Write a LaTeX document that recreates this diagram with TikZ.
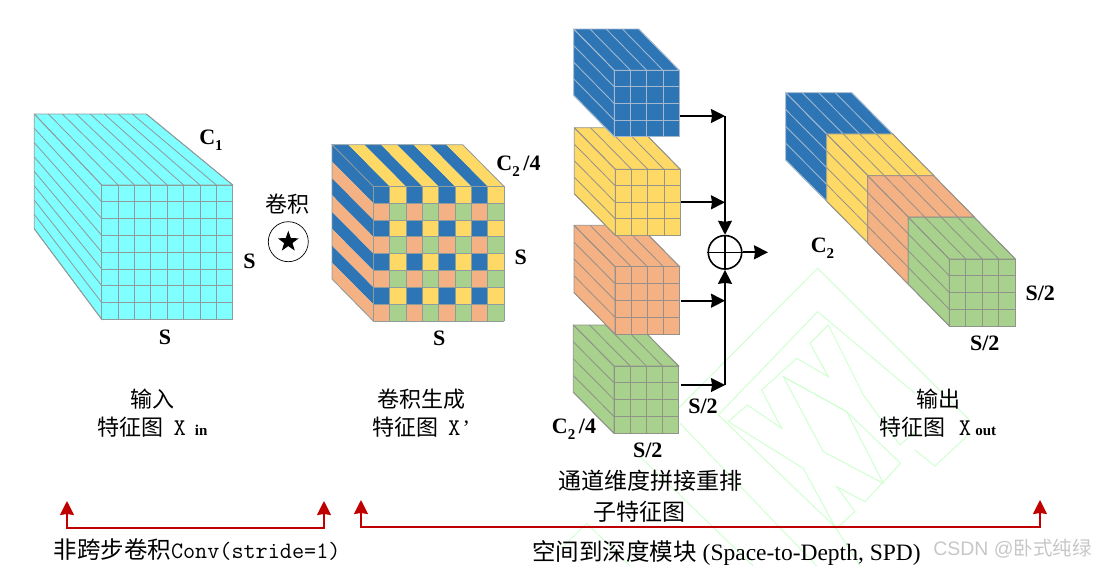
\documentclass[tikz,border=0pt]{standalone}
\usepackage{fontspec}
\usepackage{xcolor}
\usetikzlibrary{arrows.meta, shapes.geometric}

\setmainfont{Liberation Serif}
\newfontfamily\cjk{Noto Sans CJK SC}
\newfontfamily\wmfont{Liberation Sans}

\definecolor{cubeCyan}{HTML}{7FFFFF}
\definecolor{cubeCyanLine}{HTML}{8F9C9C}
\definecolor{cubeBlue}{HTML}{2E75B6}
\definecolor{cubeBlueLine}{HTML}{A3B8CE}
\definecolor{cubeYellow}{HTML}{FFD966}
\definecolor{cubeYellowLine}{HTML}{969588}
\definecolor{cubeOrange}{HTML}{F4B183}
\definecolor{cubeOrangeLine}{HTML}{98908A}
\definecolor{cubeGreen}{HTML}{A9D18E}
\definecolor{cubeGreenLine}{HTML}{8E9488}
\definecolor{arrowRed}{HTML}{C00000}
\definecolor{wmGreen}{HTML}{D0FFD0}

% Share of the front face that the back face keeps
\newcommand{\cubeback}{1}
% name, front x, front y, width, height, depth x, depth y, cells, colour
\newcommand{\featcube}[9]{%
    \filldraw[fill=#9, draw=#9Line, cubeline] (#2-#6,#3-#7) -- ++({#4*\cubeback},0) -- (#2+#4,#3) -- (#2,#3)
        -- (#2,#3+#5) -- (#2-#6,{#3-#7+#5*\cubeback}) -- cycle;
    \node[facebox, fill=#9, draw=#9Line, minimum width=#4pt, minimum height=#5pt] (#1) at (#2,#3) {};
    \foreach \k in {0,...,#8} {
        \draw[draw=#9Line, cubeline] ({#2+\k*#4/#8},#3) -- ({#2-#6+\k*#4/#8*\cubeback},#3-#7);
        \draw[draw=#9Line, cubeline] (#2,{#3+\k*#5/#8}) -- (#2-#6,{#3-#7+\k*#5/#8*\cubeback});
        \draw[draw=#9Line, cubeline] ({#2+\k*#4/#8},#3) -- ++(0,#5);
        \draw[draw=#9Line, cubeline] (#2,{#3+\k*#5/#8}) -- ++(#4,0);
    }%
}
\newcommand{\subnum}[1]{\raisebox{-.28em}{\fontsize{15}{15}\selectfont #1}}
\newcommand{\subtag}[1]{{\fontsize{15}{15}\selectfont\bfseries #1}}
\newcommand{\halfx}{{\fontsize{24}{24}\selectfont\ttfamily X}}

\begin{document}
\begin{tikzpicture}[
        x=1pt, y=-1pt,
        % Define the styles for faces, labels and connectors
        cubeline/.style={line width=0.85pt},
        facebox/.style={rectangle, anchor=north west, inner sep=0pt, outer sep=0pt, line width=0.85pt},
        dimlabel/.style={font=\fontsize{22}{24}\selectfont\bfseries, inner sep=0pt},
        captext/.style={font=\fontsize{22}{28}\selectfont, align=center, inner sep=0pt},
        bigtext/.style={font=\fontsize{23.5}{28}\selectfont, inner sep=0pt},
        flow/.style={draw=black, line width=1.7pt, -{Stealth[length=14pt, width=14pt, inset=1pt]}},
        bracket/.style={draw=arrowRed, line width=1.6pt, {Stealth[length=14pt, width=14pt, inset=1pt]}-{Stealth[length=14pt, width=14pt, inset=1pt]}}
    ]
    \useasboundingbox (0,0) rectangle (1096,566);

        % ==========================
        % WATERMARK (BACKGROUND)
        % ==========================
        \begin{scope}[shift={(540,260)}, x=0.3333pt, y=-0.3333pt, draw=wmGreen, line width=1pt]
            \draw (415,445) -- (833,25) -- (1290,482);
            \draw (535,465) -- (833,155) -- (1125,400);
            \draw (535,465) -- (890,805) -- (945,755) -- (890,680) -- (975,725) -- (1082,610) -- (920,455) -- (730,350) -- (850,575) -- (1030,670);
            \draw (565,485) -- (622,435) -- (725,505) -- (665,390) -- (770,295) -- (865,350) -- (810,250) -- (865,195) -- (970,405) -- (1080,555) -- (1130,510);
            \draw (565,485) -- (790,625) -- (885,800) -- (960,918);
            \draw (730,350) -- (920,455) -- (1030,670);
            \draw (1125,570) -- (1185,618) -- (1290,520);
            \draw (420,490) -- (830,918);
            \draw (300,590) -- (640,918);
            \draw (70,860) -- (140,790) -- (270,918);
        \end{scope}

        % ==========================
        % INPUT CUBE
        % ==========================
        \begin{scope}
            \renewcommand{\cubeback}{0.855}
            \featcube{inFace}{101.7}{185}{131}{134.3}{67.4}{71}{8}{cubeCyan}
        \end{scope}
        \node[dimlabel] (inDepth) at (211,140) {C\subnum{1}};
        \node[dimlabel] (inRight) at (249.5,261.5) {S};
        \node[dimlabel] (inBottom) at (165,337) {S};

        % Convolution sign
        \node[captext, font=\fontsize{22}{28}\selectfont\cjk] (convText) at (287.5,204) {卷积};
        \node[circle, draw, line width=0.7pt, minimum size=40pt, inner sep=0pt] (convSign) at (288.3,241.7) {};
        \node[star, star points=5, star point ratio=2.5, fill=black, minimum size=22pt, inner sep=0pt] (convStar) at (convSign) {};

        % ==========================
        % MIXED CUBE
        % ==========================
        \foreach \i/\col in {0/cubeBlue,1/cubeYellow,2/cubeBlue,3/cubeYellow,4/cubeBlue,5/cubeYellow,6/cubeBlue,7/cubeYellow}
            \fill[\col] ({373.3+\i*16.34},186.3) -- ++(16.34,0) -- ++(-41.3,-41.6) -- ++(-16.34,0) -- cycle;
        \foreach \j/\col in {0/cubeBlue,1/cubeOrange,2/cubeBlue,3/cubeOrange,4/cubeBlue,5/cubeOrange,6/cubeBlue,7/cubeOrange}
            \fill[\col] (373.3,{186.3+\j*16.84}) -- ++(0,16.84) -- ++(-41.3,-41.6) -- ++(0,-16.84) -- cycle;
        \node[facebox, minimum width=130.7pt, minimum height=134.7pt] (mixFace) at (373.3,186.3) {};
        \foreach \col/\ox/\oy in {cubeBlue/0/0, cubeYellow/1/0, cubeOrange/0/1, cubeGreen/1/1}
            \foreach \i in {0,2,4,6}
                \foreach \j in {0,2,4,6}
                    \fill[\col] ({373.3+(\i+\ox)*16.34},{186.3+(\j+\oy)*16.84}) rectangle ++(16.34,16.84);
        \foreach \k in {0,...,8} {
            \draw[draw=cubeCyanLine, cubeline] ({373.3+\k*16.34},186.3) -- ++(0,134.7);
            \draw[draw=cubeCyanLine, cubeline] (373.3,{186.3+\k*16.84}) -- ++(130.7,0);
        }
        \draw[draw=cubeCyanLine, cubeline] (373.3,186.3) -- ++(-41.3,-41.6) -- ++(130.7,0) -- (504,186.3);
        \draw[draw=cubeCyanLine, cubeline] (332,144.7) -- ++(0,134.3) -- (373.3,321);
        \node[dimlabel] (mixDepth) at (518.5,166) {C\subnum{2}\,/4};
        \node[dimlabel] (mixRight) at (520.7,257) {S};
        \node[dimlabel] (mixBottom) at (439.3,338) {S};

        % ==========================
        % SPLIT CUBES
        % ==========================
        % Painted from the bottom up, each one overlaps the one below
        \featcube{greenFace}{614}{366}{64.7}{67.3}{40.7}{41}{4}{cubeGreen}
        \featcube{orangeFace}{615}{266.7}{64.7}{67.3}{41}{41.4}{4}{cubeOrange}
        \featcube{yellowFace}{615.3}{169.3}{65}{66}{41}{41.6}{4}{cubeYellow}
        \featcube{blueFace}{614.3}{70.3}{65}{66.4}{40.6}{41.3}{4}{cubeBlue}
        \node[dimlabel] (splitDepth) at (574,429) {C\subnum{2}\,/4};
        \node[dimlabel] (splitRight) at (703,406) {S/2};
        \node[dimlabel] (splitBottom) at (647.7,450) {S/2};

        % ==========================
        % JOIN
        % ==========================
        \node[circle, draw, line width=1.6pt, minimum size=33.5pt, inner sep=0pt] (oplus) at (725,252.3) {};
        \draw[line width=1.2pt] (oplus.north) -- (oplus.south);
        \draw[line width=1.2pt] (oplus.west) -- (oplus.east);
        \coordinate (blueJoin) at (725,116);
        \coordinate (yellowJoin) at (725,202.3);
        \coordinate (orangeJoin) at (725,300.7);
        \coordinate (greenJoin) at (725,385);
        \coordinate (joinOut) at (768,252.3);

        \draw[flow] ([xshift=1pt]blueFace.east |- blueJoin) -- (blueJoin);
        \draw[flow] ([xshift=1pt]yellowFace.east |- yellowJoin) -- (yellowJoin);
        \draw[flow] ([xshift=1pt]orangeFace.east |- orangeJoin) -- (orangeJoin);
        \draw[flow] ([xshift=2pt]greenFace.east |- greenJoin) -- (greenJoin);
        \draw[flow] (blueJoin) -- (oplus.north);
        \draw[flow] (greenJoin) -- (oplus.south);
        \draw[flow] (oplus.east) -- (joinOut);

        % ==========================
        % OUTPUT CUBES
        % ==========================
        \featcube{outBlue}{826.7}{134}{66}{67.3}{41}{41.3}{4}{cubeBlue}
        \featcube{outYellow}{867.7}{175.5}{66}{67.3}{41}{41.5}{4}{cubeYellow}
        \featcube{outOrange}{908.3}{217}{66}{67.3}{40.6}{41.3}{4}{cubeOrange}
        \featcube{outGreen}{949.3}{259}{66}{67}{41}{41.7}{4}{cubeGreen}
        \node[dimlabel] (outDepth) at (822.5,248) {C\subnum{2}};
        \node[dimlabel] (outRight) at (1040.3,293) {S/2};
        \node[dimlabel] (outBottom) at (984.7,343) {S/2};

        % ==========================
        % CAPTIONS
        % ==========================
        \node[captext] (inCaption) at (152.5,413) {{\cjk 输入}\\{\cjk 特征图}\hspace{10pt}\halfx\hspace{9pt}\subtag{in}};
        \node[captext] (mixCaption) at (421,413) {{\cjk 卷积生成}\\{\cjk 特征图}\hspace{10pt}\halfx\hspace{2pt}’};
        \node[captext, font=\fontsize{23}{28}\selectfont\cjk] (splitCaptionA) at (650,481) {通道维度拼接重排};
        \node[captext, font=\fontsize{23}{28}\selectfont\cjk] (splitCaptionB) at (639,512) {子特征图};
        \node[captext] (outCaption) at (938,413) {{\cjk 输出}\\{\cjk 特征图}\hspace{13pt}\halfx\hspace{4pt}\subtag{out}};

        % ==========================
        % BRACKETS
        % ==========================
        \coordinate (convLeft) at (67,501);
        \coordinate (convRight) at (324,501);
        \coordinate (spdLeft) at (361,500);
        \coordinate (spdRight) at (1040,500);
        \draw[bracket] (convLeft) -- ++(0,27) -| (convRight);
        \draw[bracket] (spdLeft) -- ++(0,27) -| (spdRight);
        \node[bigtext] (convCaption) at (197,550) {{\cjk 非跨步卷积}{\ttfamily Conv(stride=1)}};
        \node[bigtext] (spdCaption) at (726.5,553) {{\cjk 空间到深度模块} (Space-to-Depth, SPD)};

        % Site mark
        \node[inner sep=0pt, text=black!22, font=\fontsize{19.5}{22}\selectfont\wmfont] (siteMark) at (1012.5,549) {CSDN @{\cjk 卧式纯绿}};

    \end{tikzpicture}
\end{document}
